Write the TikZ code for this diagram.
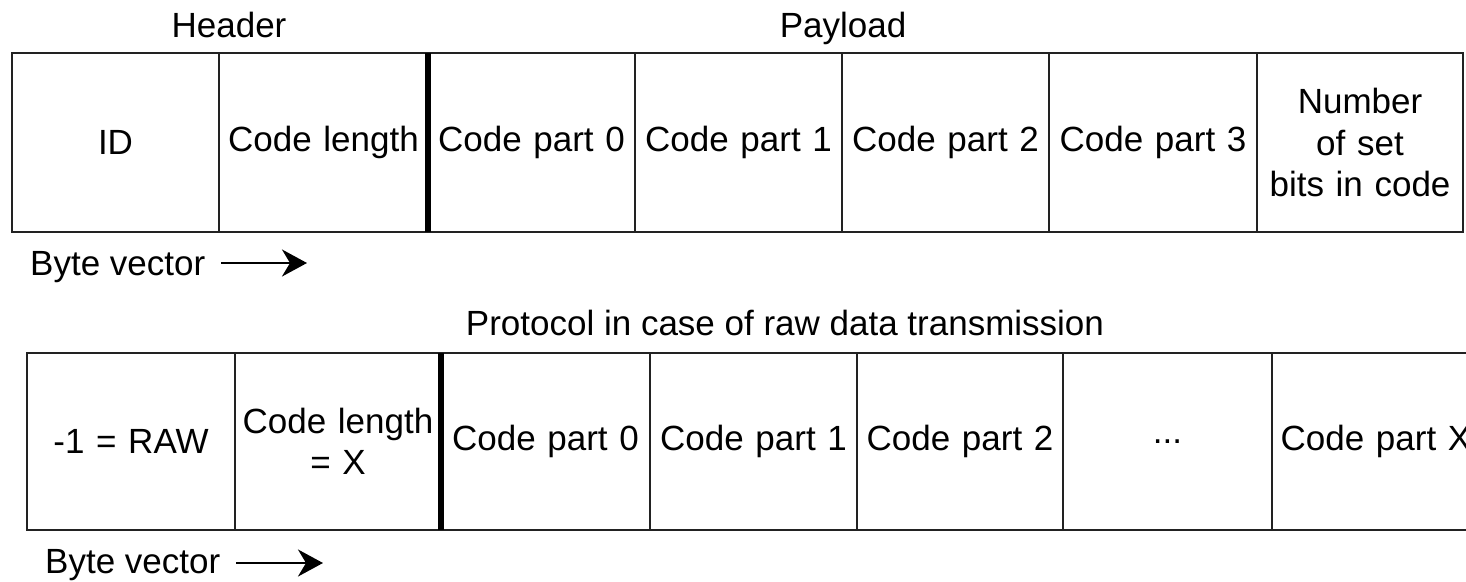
\documentclass[tikz,border=0pt]{standalone}
\usepackage{fontspec}
\setmainfont{Liberation Sans}
\usetikzlibrary{arrows.meta}
\definecolor{ln}{HTML}{222222}
\tikzset{
  cell/.style={draw=ln, line width=2.5pt, rectangle, inner sep=0pt, outer sep=0pt,
    minimum height=#1, text width=200pt, align=center,
    font=\fontsize{35}{41.5}\selectfont},
  cell/.default=179pt,
  lbl/.style={anchor=base, inner sep=0pt, font=\fontsize{35}{41.5}\selectfont},
  divider/.style={draw=black, line width=6pt},
  arr/.style={draw=black, line width=2.5pt, -{Stealth[length=25pt,width=27pt,inset=8pt]}}
}
\begin{document}
\begin{tikzpicture}[x=1pt,y=-1pt]
\useasboundingbox[fill=white] (0,0) rectangle (1466,581);
% top row
\node[lbl] (header) at (229,37) {Header};
\node[lbl] (payload) at (843,37) {Payload};
\node[cell, minimum width=207pt] (t1) at (115.5,142.5) {ID};
\node[cell, minimum width=209pt] (t2) at (323.5,142.5) {Code length};
\node[cell, minimum width=207pt] (t3) at (531.5,142.5) {Code part 0};
\node[cell, minimum width=207pt] (t4) at (738.5,142.5) {Code part 1};
\node[cell, minimum width=207pt] (t5) at (945.5,142.5) {Code part 2};
\node[cell, minimum width=208pt] (t6) at (1153,142.5) {Code part 3};
\node[cell, minimum width=206pt] (t7) at (1360,142.5) {Number\\of set\\bits in code};
\draw[divider] (t2.north east) -- (t2.south east);
\node[lbl, anchor=base west] (bv1) at (30,275) {Byte vector};
\coordinate (a1s) at (221,263);
\coordinate (a1e) at (307,263);
\draw[arr] (a1s) -- (a1e);
% bottom row
\node[lbl] (proto) at (785,335) {Protocol in case of raw data transmission};
\node[cell=177pt, minimum width=208pt] (b1) at (131,441.5) {-1 = RAW};
\node[cell=177pt, minimum width=206pt] (b2) at (338,441.5) {Code length\\= X};
\node[cell=177pt, minimum width=209pt] (b3) at (545.5,441.5) {Code part 0};
\node[cell=177pt, minimum width=207pt] (b4) at (753.5,441.5) {Code part 1};
\node[cell=177pt, minimum width=206pt] (b5) at (960,441.5) {Code part 2};
\node[cell=177pt, minimum width=209pt] (b6) at (1167.5,441.5) {...};
\node[cell=177pt, minimum width=208pt] (b7) at (1376,441.5) {Code part X};
\draw[divider] (b2.north east) -- (b2.south east);
\node[lbl, anchor=base west] (bv2) at (45,573) {Byte vector};
\coordinate (a2s) at (236,563);
\coordinate (a2e) at (323,563);
\draw[arr] (a2s) -- (a2e);
\end{tikzpicture}
\end{document}
